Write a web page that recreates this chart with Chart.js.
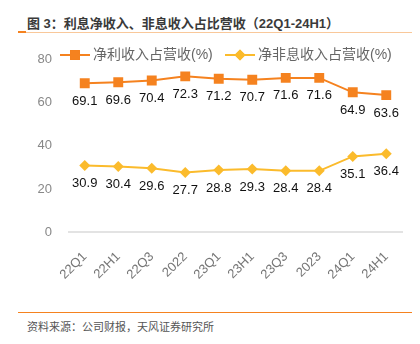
<!DOCTYPE html>
<html>
<head>
<meta charset="utf-8">
<script src="https://cdn.jsdelivr.net/npm/chart.js@4.4.1/dist/chart.umd.min.js"></script>
<style>
    body { margin: 0; background: #fff; font-family: "Liberation Sans", "Noto Sans CJK SC", sans-serif; }
    #wrap { position: relative; width: 420px; height: 344px; overflow: hidden; }
    #title { position: absolute; left: 27px; top: 13px; font-size: 13px; font-weight: bold; color: #3a3a3a; white-space: nowrap; }
    #topLine { position: absolute; left: 18px; top: 32px; width: 394px; height: 1px; background: #f9c89a; }
    #topMark { position: absolute; left: 18px; top: 31px; width: 8px; height: 2px; background: #f5821f; }
    #bottomLine { position: absolute; left: 18px; top: 312px; width: 394px; height: 1px; background: #f5821f; }
    #source { position: absolute; left: 27px; top: 318px; font-size: 11px; color: #555; white-space: nowrap; }
    #chartBox { position: absolute; left: 0; top: 36px; width: 420px; height: 274px; }
</style>
</head>
<body>
<div id="wrap">
    <div id="title">图 3：利息净收入、非息收入占比营收（22Q1-24H1）</div>
    <div id="topLine"></div>
    <div id="topMark"></div>
    <div id="chartBox"><canvas id="ratioChart"></canvas></div>
    <div id="bottomLine"></div>
    <div id="source">资料来源：公司财报，天风证券研究所</div>
</div>
<script>
// Periods and ratios (%)
const periods = ['22Q1', '22H1', '22Q3', '2022', '23Q1', '23H1', '23Q3', '2023', '24Q1', '24H1'];
const netInterestShare = [69.1, 69.6, 70.4, 72.3, 71.2, 70.7, 71.6, 71.6, 64.9, 63.6];
const nonInterestShare = [30.9, 30.4, 29.6, 27.7, 28.8, 29.3, 28.4, 28.4, 35.1, 36.4];
const yTicks = [0, 20, 40, 60, 80];

const ORANGE = '#f5821f';
const GOLD = '#fbbb2c';

// Value labels under each point + line-style legend
const labelPlugin = {
    id: 'labelPlugin',
    afterDatasetsDraw(chart) {
        const ctx = chart.ctx;
        ctx.save();
        ctx.font = '13px "Liberation Sans", Arial, sans-serif';
        ctx.fillStyle = '#111';
        ctx.textAlign = 'center';
        ctx.textBaseline = 'middle';
        chart.data.datasets.forEach((ds, i) => {
            chart.getDatasetMeta(i).data.forEach((pt, j) => {
                ctx.fillText(ds.data[j].toFixed(1), pt.x, pt.y + 18);
            });
        });

        // legend
        const items = [
            { x: 60, color: ORANGE, style: 'rect', r: 7, text: chart.data.datasets[0].label },
            { x: 225, color: GOLD, style: 'rectRot', r: 5.5, text: chart.data.datasets[1].label }
        ];
        const ly = 19;
        items.forEach(it => {
            ctx.strokeStyle = it.color;
            ctx.lineWidth = 2;
            ctx.beginPath();
            ctx.moveTo(it.x, ly);
            ctx.lineTo(it.x + 30, ly);
            ctx.stroke();
            ctx.fillStyle = it.color;
            Chart.helpers.drawPoint(ctx, { pointStyle: it.style, radius: it.r, rotation: 0, borderWidth: 0 }, it.x + 15, ly);
            ctx.fill();
            ctx.fillStyle = '#666';
            ctx.textAlign = 'left';
            ctx.font = '14px "Liberation Sans", "Noto Sans CJK SC", sans-serif';
            ctx.fillText(it.text, it.x + 33, ly);
        });
        ctx.restore();
    }
};

const ctx = document.getElementById('ratioChart').getContext('2d');
new Chart(ctx, {
    type: 'line',
    data: {
        labels: periods,
        datasets: [{
            label: '净利收入占营收(%)',
            data: netInterestShare,
            borderColor: ORANGE,
            backgroundColor: ORANGE,
            borderWidth: 2,
            pointStyle: 'rect',
            pointRadius: 7,
            pointBorderWidth: 0,
            tension: 0
        }, {
            label: '净非息收入占营收(%)',
            data: nonInterestShare,
            borderColor: GOLD,
            backgroundColor: GOLD,
            borderWidth: 2,
            pointStyle: 'rectRot',
            pointRadius: 5.5,
            pointBorderWidth: 0,
            tension: 0
        }]
    },
    options: {
        responsive: true,
        maintainAspectRatio: false,
        animation: false,
        layout: { padding: { top: 15, right: 17, left: 0, bottom: 0 } },
        plugins: {
            legend: { display: false },
            tooltip: { enabled: false }
        },
        scales: {
            x: {
                offset: true,
                grid: { display: false },
                border: { display: false },
                ticks: {
                    color: '#777',
                    font: { size: 13, family: '"Liberation Sans", Arial, sans-serif' },
                    minRotation: 45,
                    maxRotation: 45,
                    padding: 9
                },
                afterFit: scale => { scale.height = 78; }
            },
            y: {
                min: 0,
                max: 80,
                afterBuildTicks: scale => { scale.ticks = yTicks.map(v => ({ value: v })); },
                grid: {
                    drawTicks: false,
                    lineWidth: c => (c.tick.value === 0 ? 2 : 0),
                    color: '#e3e3e3'
                },
                border: { display: false },
                ticks: {
                    color: '#888',
                    font: { size: 13, family: '"Liberation Sans", Arial, sans-serif' },
                    padding: 16
                },
                afterFit: scale => { scale.width = 68; }
            }
        }
    },
    plugins: [labelPlugin]
});
</script>
</body>
</html>
